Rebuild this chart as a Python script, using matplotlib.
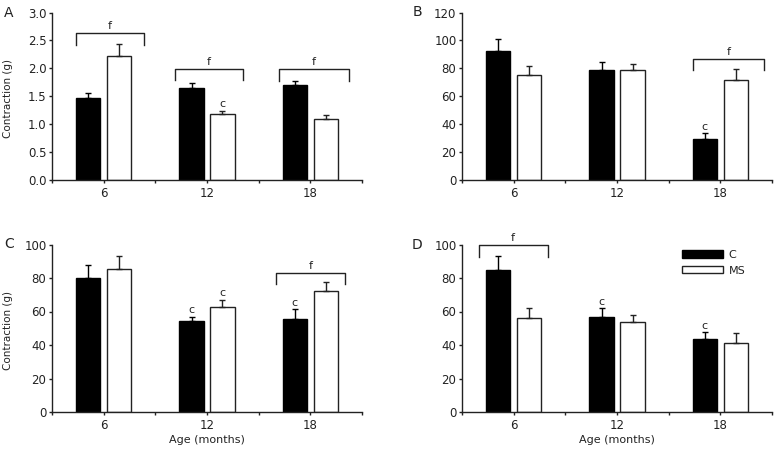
import numpy as np
import matplotlib.pyplot as plt
from matplotlib.patches import Patch

# age groups (months)
ages = ['6', '12', '18']

# panel A
a_c = [1.47, 1.65, 1.70]
a_c_err = [0.08, 0.08, 0.07]
a_ms = [2.22, 1.19, 1.10]
a_ms_err = [0.22, 0.05, 0.07]

# panel B
b_c = [92.5, 78.5, 29.2]
b_c_err = [8.5, 5.8, 4.3]
b_ms = [75.4, 78.5, 71.8]
b_ms_err = [6.6, 4.8, 7.7]

# panel C
c_c = [80.2, 54.4, 55.8]
c_c_err = [7.8, 2.4, 5.6]
c_ms = [85.5, 62.4, 72.3]
c_ms_err = [7.4, 4.7, 5.3]

# panel D
d_c = [85.0, 56.6, 43.4]
d_c_err = [8.0, 5.4, 4.2]
d_ms = [56.4, 54.0, 41.4]
d_ms_err = [5.6, 4.0, 5.6]

# significance marks: (series, group) -> 'c'
a_marks = [('ms', 1)]
b_marks = [('c', 2)]
c_marks = [('c', 1), ('ms', 1), ('c', 2)]
d_marks = [('c', 1), ('c', 2)]

# brackets: (group, left offset, right offset, y level)
a_brackets = [(0, -0.27, 0.39, 2.63), (1, -0.31, 0.35, 1.99), (2, -0.30, 0.37, 1.98)]
b_brackets = [(2, -0.26, 0.42, 86.7)]
c_brackets = [(2, -0.33, 0.34, 83.0)]
d_brackets = [(0, -0.34, 0.33, 99.6)]

LINE = '#222222'
W = 0.235
OFF = 0.15

plt.rcParams['font.family'] = 'DejaVu Sans'
fig = plt.figure(figsize=(7.77, 4.5), dpi=100)


def draw_panel(rect, c_vals, c_err, ms_vals, ms_err, marks, brackets,
               ymax, ystep, fmt, letter, letter_xy, ylabel=False, xlabel=False):
    ax = fig.add_axes(rect)
    x = np.arange(len(ages))
    ax.bar(x - OFF, c_vals, W, color='black', edgecolor='black', linewidth=1.0, zorder=2)
    ax.bar(x + OFF, ms_vals, W, color='white', edgecolor=LINE, linewidth=1.0, zorder=2)
    ax.errorbar(x - OFF, c_vals, yerr=[np.zeros(3), c_err], fmt='none',
                ecolor='black', elinewidth=1.0, capsize=2.5, capthick=1.0, zorder=3)
    ax.errorbar(x + OFF, ms_vals, yerr=[np.zeros(3), ms_err], fmt='none',
                ecolor=LINE, elinewidth=1.0, capsize=2.5, capthick=1.0, zorder=3)

    tops = {'c': np.array(c_vals) + np.array(c_err),
            'ms': np.array(ms_vals) + np.array(ms_err)}
    for series, g in marks:
        xx = g - OFF if series == 'c' else g + OFF
        ax.annotate('c', (xx, tops[series][g]), xytext=(0, 1.0),
                    textcoords='offset points', ha='center', va='bottom',
                    fontsize=8, color=LINE)

    drop = ymax * 0.068
    for g, lo, hi, yb in brackets:
        ax.plot([g + lo, g + lo, g + hi, g + hi], [yb - drop, yb, yb, yb - drop],
                color=LINE, lw=1.0, clip_on=False, zorder=3)
        ax.annotate('f', (g + (lo + hi) / 2, yb), xytext=(0, 1.5),
                    textcoords='offset points', ha='center', va='bottom',
                    fontsize=8, color=LINE)

    ax.set_xlim(-0.5, 2.5)
    ax.set_ylim(0, ymax)
    ax.set_xticks([-0.5, 0, 0.5, 1, 1.5, 2, 2.5])
    ax.set_xticklabels(['', ages[0], '', ages[1], '', ages[2], ''])
    yt = np.arange(0, ymax + ystep / 2, ystep)
    ax.set_yticks(yt)
    ax.set_yticklabels([fmt % v for v in yt])
    for s in ['top', 'right']:
        ax.spines[s].set_visible(False)
    for s in ['left', 'bottom']:
        ax.spines[s].set_color(LINE)
        ax.spines[s].set_linewidth(1.0)
    ax.tick_params(axis='both', colors=LINE, labelsize=8.5, length=2.5, width=1.0)
    ax.tick_params(axis='x', pad=2.5)
    ax.tick_params(axis='y', pad=1.5)
    if ylabel:
        ax.set_ylabel('Contraction (g)', fontsize=7.5, color=LINE)
        ax.yaxis.set_label_coords(-0.125, 0.484)
    if xlabel:
        ax.set_xlabel('Age (months)', fontsize=8, color=LINE, labelpad=2)
    fig.text(letter_xy[0] / 777, 1 - letter_xy[1] / 450, letter, fontsize=10,
             ha='center', va='center', color=LINE)
    return ax


top_b = 270 / 450
bot_b = 38 / 450
w = 310 / 777
h = 167.5 / 450

draw_panel([52 / 777, top_b, w, h], a_c, a_c_err, a_ms, a_ms_err, a_marks, a_brackets,
           3.0, 0.5, '%.1f', 'A', (9, 13), ylabel=True)
draw_panel([462 / 777, top_b, w, h], b_c, b_c_err, b_ms, b_ms_err, b_marks, b_brackets,
           120, 20, '%d', 'B', (417, 12))
draw_panel([52 / 777, bot_b, w, h], c_c, c_c_err, c_ms, c_ms_err, c_marks, c_brackets,
           100, 20, '%d', 'C', (9, 244), ylabel=True, xlabel=True)
ax_d = draw_panel([462 / 777, bot_b, w, h], d_c, d_c_err, d_ms, d_ms_err, d_marks, d_brackets,
                  100, 20, '%d', 'D', (417, 245), xlabel=True)

handles = [Patch(facecolor='black', edgecolor='black', linewidth=1.0, label='C'),
           Patch(facecolor='white', edgecolor=LINE, linewidth=1.0, label='MS')]
ax_d.legend(handles=handles, loc='upper left', bbox_to_anchor=(0.709, 0.967),
            frameon=False, fontsize=8, handlelength=3.75, handleheight=0.65,
            handletextpad=0.45, labelspacing=0.5, borderpad=0, borderaxespad=0,
            labelcolor=LINE)

fig.savefig('out.png', dpi=100)
